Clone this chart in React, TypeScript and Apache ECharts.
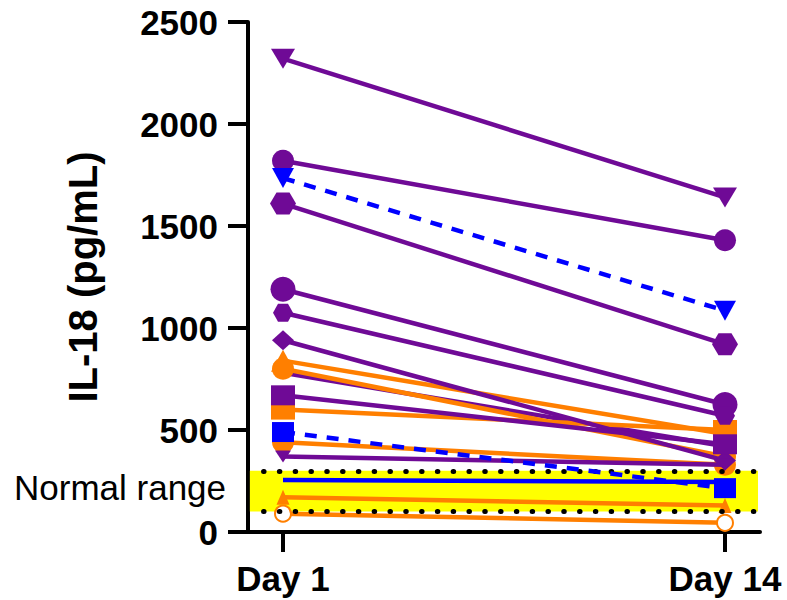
import React, { useEffect, useRef } from "react";
import * as echarts from "echarts";

const days = ["Day 1", "Day 14"];
const dayPos = [0, 1];

// purple series
const pTriDown = [2320, 1640];
const pCircleA = [1820, 1430];
const pHexA = [1610, 920];
const pCircleB = [1190, 625];
const pHexB = [1075, 570];
const pDiamond = [940, 350];
const pHidden = [780, 420];
const pSquare = [670, 430];
const pTriDownSmall = [370, 330];

// orange series
const oTriangle = [840, 480];
const oCircleA = [800, 370];
const oSquare = [600, 500];
const oCircleB = [440, 330];
const oTriUp = [170, 130];
const oOpenCircle = [90, 45];

// blue series
const bTriDown = [1735, 1085];
const bSquare = [490, 215];
const bSolid = [255, 245];

const yTicks = [0, 500, 1000, 1500, 2000, 2500];
const normalRange = [100, 300];

const PURPLE = "#6f0a96";
const ORANGE = "#ff7f00";
const BLUE = "#0000ff";
const HEX = "path://M-1,0 L-0.5,-0.866 L0.5,-0.866 L1,0 L0.5,0.866 L-0.5,0.866 Z";
const TRI_DOWN = "path://M0,0 L2,0 L1,1.8 Z";

function mk(name: string, vals: number[], color: string, symbol: string, size: any, dashed = false, z = 3) {
  return {
    name,
    type: "line",
    data: vals.map((v, i) => [dayPos[i], v]),
    symbol,
    symbolSize: size,
    showSymbol: symbol !== "none",
    z,
    itemStyle: symbol === "emptyCircle" ? { color, borderColor: color, borderWidth: 4.5 } : { color },
    lineStyle: { color, width: 4.5, type: dashed ? [12, 10] : "solid" },
    emphasis: { disabled: true },
  };
}

export default function App() {
  const ref = useRef<HTMLDivElement>(null);
  useEffect(() => {
    if (!ref.current) return;
    const chart = echarts.init(ref.current, null, { renderer: "svg" });
    const font = "Liberation Sans, Arial, sans-serif";
    const xMin = -0.0792;
    const xMax = 1.0792;
    chart.setOption({
      animation: false,
      grid: { left: 248, right: 27, top: 22, bottom: 68, containLabel: false, outerBoundsMode: "none" },
      xAxis: {
        type: "value",
        min: xMin,
        max: xMax,
        splitLine: { show: false },
        axisLine: { show: true, onZero: false, lineStyle: { color: "#000", width: 4 } },
        axisTick: { show: true, length: 20, lineStyle: { color: "#000", width: 4 }, customValues: dayPos },
        axisLabel: {
          customValues: dayPos,
          formatter: (v: number) => days[dayPos.indexOf(v)] ?? "",
          fontFamily: font,
          fontWeight: "bold",
          fontSize: 35,
          color: "#000",
          margin: 29,
        },
      },
      yAxis: {
        type: "value",
        min: 0,
        max: 2500,
        interval: 500,
        name: "IL-18 (pg/mL)",
        nameLocation: "middle",
        nameGap: 145,
        nameTextStyle: { fontFamily: font, fontWeight: "bold", fontSize: 40, color: "#000" },
        splitLine: { show: false },
        axisLine: { show: true, onZero: false, lineStyle: { color: "#000", width: 4 } },
        axisTick: { show: true, length: 20, lineStyle: { color: "#000", width: 4 } },
        axisLabel: {
          formatter: (v: number) => (yTicks.includes(v) ? String(v) : ""),
          fontFamily: font,
          fontWeight: "bold",
          fontSize: 35,
          color: "#000",
          margin: 30,
        },
      },
      graphic: [
        {
          type: "text",
          left: 14,
          top: 470,
          style: { text: "Normal range", fontFamily: font, fontSize: 35, fill: "#000" },
        },
      ],
      series: [
        {
          name: "normal",
          type: "line",
          data: [],
          z: 1,
          markArea: {
            silent: true,
            itemStyle: { color: "#ffff00" },
            data: [[{ coord: [-0.075, normalRange[0]] }, { coord: [1.0747, normalRange[1]] }]],
          },
          markLine: {
            silent: true,
            symbol: "none",
            label: { show: false },
            lineStyle: { color: "#000", width: 5, type: [0.5, 15.3], cap: "round" },
            data: [
              [{ coord: [-0.044, normalRange[1]] }, { coord: [1.068, normalRange[1]] }],
              [{ coord: [-0.044, normalRange[0]] }, { coord: [1.068, normalRange[0]] }],
            ],
          },
        },
        mk("oTriangle", oTriangle, ORANGE, "triangle", [24, 22]),
        mk("oCircleA", oCircleA, ORANGE, "circle", 22),
        mk("oSquare", oSquare, ORANGE, "rect", [24, 20]),
        mk("oCircleB", oCircleB, ORANGE, "circle", 22),
        mk("oTriUp", oTriUp, ORANGE, "triangle", [13, 15]),
        mk("oOpenCircle", oOpenCircle, ORANGE, "emptyCircle", 16),
        mk("pTriDown", pTriDown, PURPLE, TRI_DOWN, [24, 20], false, 4),
        mk("pCircleA", pCircleA, PURPLE, "circle", 22, false, 4),
        mk("pHexA", pHexA, PURPLE, HEX, [26, 22], false, 4),
        mk("pCircleB", pCircleB, PURPLE, "circle", 25, false, 4),
        mk("pHexB", pHexB, PURPLE, HEX, [20, 18], false, 4),
        mk("pDiamond", pDiamond, PURPLE, "diamond", [22, 20], false, 4),
        mk("pHidden", pHidden, PURPLE, "none", 0, false, 2),
        mk("pSquare", pSquare, PURPLE, "rect", [24, 20], false, 4),
        mk("pTriDownSmall", pTriDownSmall, PURPLE, TRI_DOWN, [16, 12], false, 4),
        mk("bTriDown", bTriDown, BLUE, TRI_DOWN, [22, 20], true, 5),
        mk("bSquare", bSquare, BLUE, "rect", [22, 20], true, 5),
        mk("bSolid", bSolid, BLUE, "none", 0, false, 5),
      ],
    });
    return () => chart.dispose();
  }, []);
  return <div ref={ref} style={{ position: "absolute", left: 0, top: 0, width: 787, height: 600 }} />;
}
